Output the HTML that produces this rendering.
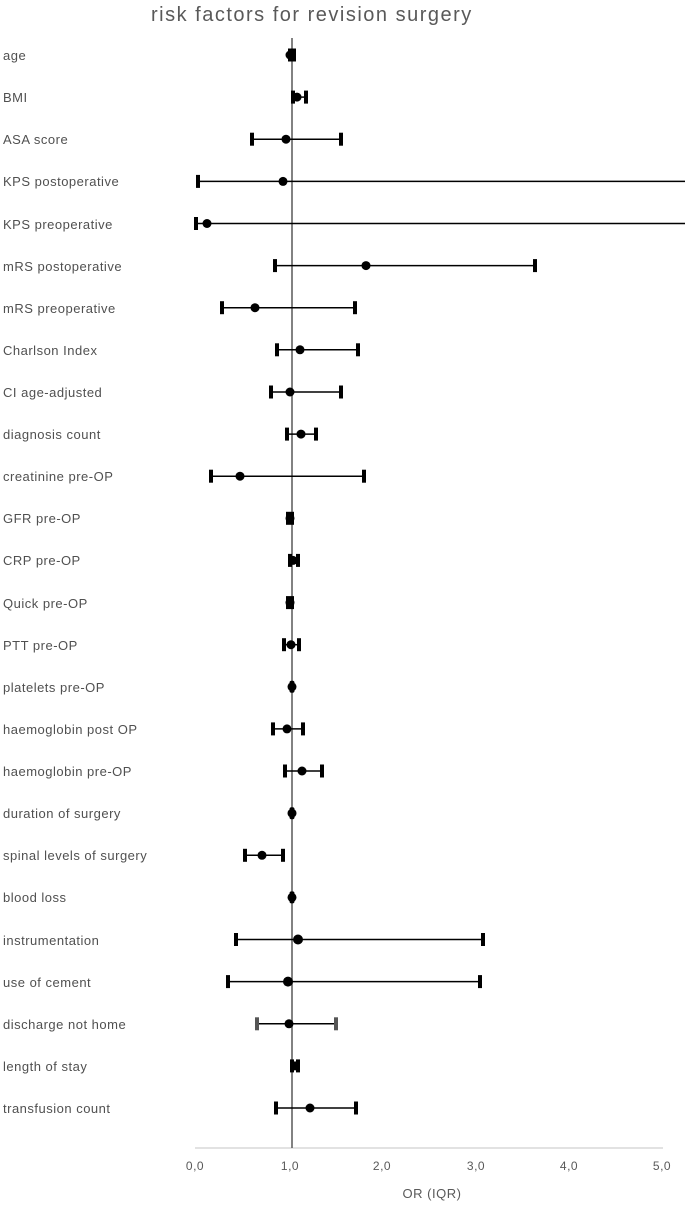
<!DOCTYPE html>
<html><head><meta charset="utf-8"><style>
html,body{margin:0;padding:0;background:#fff;}
svg{display:block;font-family:"Liberation Sans",sans-serif;}
.l{font-size:13px;fill:#505050;letter-spacing:0.5px;}
.t{font-size:12px;fill:#595959;letter-spacing:0.5px;}
</style></head><body>
<svg width="685" height="1205" viewBox="0 0 685 1205" xmlns="http://www.w3.org/2000/svg">
<text x="151" y="21" font-size="20" letter-spacing="1.5" fill="#595959">risk factors for revision surgery</text>
<line x1="195" y1="1148" x2="663" y2="1148" stroke="#d9d9d9" stroke-width="1.5"/>
<line x1="292" y1="38" x2="292" y2="1148" stroke="#595959" stroke-width="1.5"/>
<g class="t" text-anchor="middle">
<text x="195" y="1170">0,0</text><text x="290" y="1170">1,0</text><text x="382" y="1170">2,0</text><text x="476" y="1170">3,0</text><text x="569" y="1170">4,0</text><text x="662" y="1170">5,0</text>
</g>
<text x="432" y="1198" text-anchor="middle" font-size="13" letter-spacing="0.5" fill="#595959">OR (IQR)</text>

<g class="l">
<text x="3" y="60">age</text>
<text x="3" y="102">BMI</text>
<text x="3" y="144">ASA score</text>
<text x="3" y="186">KPS postoperative</text>
<text x="3" y="229">KPS preoperative</text>
<text x="3" y="271">mRS postoperative</text>
<text x="3" y="313">mRS preoperative</text>
<text x="3" y="355">Charlson Index</text>
<text x="3" y="397">CI age-adjusted</text>
<text x="3" y="439">diagnosis count</text>
<text x="3" y="481">creatinine pre-OP</text>
<text x="3" y="523">GFR pre-OP</text>
<text x="3" y="565">CRP pre-OP</text>
<text x="3" y="608">Quick pre-OP</text>
<text x="3" y="650">PTT pre-OP</text>
<text x="3" y="692">platelets pre-OP</text>
<text x="3" y="734">haemoglobin post OP</text>
<text x="3" y="776">haemoglobin pre-OP</text>
<text x="3" y="818">duration of surgery</text>
<text x="3" y="860">spinal levels of surgery</text>
<text x="3" y="902">blood loss</text>
<text x="3" y="945">instrumentation</text>
<text x="3" y="987">use of cement</text>
<text x="3" y="1029">discharge not home</text>
<text x="3" y="1071">length of stay</text>
<text x="3" y="1113">transfusion count</text>
</g>

<g stroke="#000" stroke-width="1.5">
<line x1="293" y1="97.1" x2="306" y2="97.1"/>
<line x1="252" y1="139.2" x2="341" y2="139.2"/>
<line x1="198" y1="181.4" x2="685" y2="181.4"/>
<line x1="196" y1="223.5" x2="685" y2="223.5"/>
<line x1="275" y1="265.6" x2="535" y2="265.6"/>
<line x1="222" y1="307.7" x2="355" y2="307.7"/>
<line x1="277" y1="349.8" x2="358" y2="349.8"/>
<line x1="271" y1="392" x2="341" y2="392"/>
<line x1="287" y1="434.1" x2="316" y2="434.1"/>
<line x1="211" y1="476.2" x2="364" y2="476.2"/>
<line x1="290" y1="560.4" x2="298" y2="560.4"/>
<line x1="284" y1="644.7" x2="299" y2="644.7"/>
<line x1="273" y1="728.9" x2="303" y2="728.9"/>
<line x1="285" y1="771" x2="322" y2="771"/>
<line x1="245" y1="855.3" x2="283" y2="855.3"/>
<line x1="236" y1="939.5" x2="483" y2="939.5"/>
<line x1="228" y1="981.6" x2="480" y2="981.6"/>
<line x1="257" y1="1023.8" x2="336" y2="1023.8"/>
<line x1="276" y1="1108" x2="356" y2="1108"/>
</g>

<g fill="#000">
<rect x="288" y="48.5" width="8" height="13"/>
<rect x="291" y="90.6" width="4" height="13"/><rect x="304" y="90.6" width="4" height="13"/>
<rect x="250" y="132.7" width="4" height="13"/><rect x="339" y="132.7" width="4" height="13"/>
<rect x="196" y="174.9" width="4" height="13"/>
<rect x="194" y="217" width="4" height="13"/>
<rect x="273" y="259.1" width="4" height="13"/><rect x="533" y="259.1" width="4" height="13"/>
<rect x="220" y="301.2" width="4" height="13"/><rect x="353" y="301.2" width="4" height="13"/>
<rect x="275" y="343.3" width="4" height="13"/><rect x="356" y="343.3" width="4" height="13"/>
<rect x="269" y="385.5" width="4" height="13"/><rect x="339" y="385.5" width="4" height="13"/>
<rect x="285" y="427.6" width="4" height="13"/><rect x="314" y="427.6" width="4" height="13"/>
<rect x="209" y="469.7" width="4" height="13"/><rect x="362" y="469.7" width="4" height="13"/>
<rect x="286" y="511.8" width="8" height="13"/>
<rect x="288" y="553.9" width="4" height="13"/><rect x="296" y="553.9" width="4" height="13"/>
<rect x="286" y="596.1" width="8" height="13"/>
<rect x="282" y="638.2" width="4" height="13"/><rect x="297" y="638.2" width="4" height="13"/>
<rect x="289.5" y="680.8" width="5" height="12" rx="2"/>
<rect x="271" y="722.4" width="4" height="13"/><rect x="301" y="722.4" width="4" height="13"/>
<rect x="283" y="764.5" width="4" height="13"/><rect x="320" y="764.5" width="4" height="13"/>
<rect x="289.5" y="807.2" width="5" height="12" rx="2"/>
<rect x="243" y="848.8" width="4" height="13"/><rect x="281" y="848.8" width="4" height="13"/>
<rect x="289.5" y="891.4" width="5" height="12" rx="2"/>
<rect x="234" y="933" width="4" height="13"/><rect x="481" y="933" width="4" height="13"/>
<rect x="226" y="975.1" width="4" height="13"/><rect x="478" y="975.1" width="4" height="13"/>
<rect x="255" y="1017.3" width="4" height="13" fill="#555"/><rect x="334" y="1017.3" width="4" height="13" fill="#555"/>
<rect x="290" y="1059.4" width="4" height="13"/><rect x="296" y="1059.4" width="4" height="13"/>
<rect x="274" y="1101.5" width="4" height="13"/><rect x="354" y="1101.5" width="4" height="13"/>
</g>

<g fill="#000">
<circle cx="290" cy="55" r="4.5"/>
<circle cx="297" cy="97.1" r="4.5"/>
<circle cx="286" cy="139.2" r="4.5"/>
<circle cx="283" cy="181.4" r="4.5"/>
<circle cx="207" cy="223.5" r="4.5"/>
<circle cx="366" cy="265.6" r="4.5"/>
<circle cx="255" cy="307.7" r="4.5"/>
<circle cx="300" cy="349.8" r="4.5"/>
<circle cx="290" cy="392" r="4.5"/>
<circle cx="301" cy="434.1" r="4.5"/>
<circle cx="240" cy="476.2" r="4.5"/>
<circle cx="290" cy="518.3" r="4.5"/>
<circle cx="293" cy="560.4" r="4.5"/>
<circle cx="290" cy="602.6" r="4.5"/>
<circle cx="291" cy="644.7" r="4.5"/>
<circle cx="292" cy="686.8" r="4.5"/>
<circle cx="287" cy="728.9" r="4.5"/>
<circle cx="302" cy="771" r="4.5"/>
<circle cx="292" cy="813.2" r="4.5"/>
<circle cx="262" cy="855.3" r="4.5"/>
<circle cx="292" cy="897.4" r="4.5"/>
<circle cx="298" cy="939.5" r="5"/>
<circle cx="288" cy="981.6" r="5"/>
<circle cx="289" cy="1023.8" r="4.5"/>
<circle cx="295" cy="1065.9" r="4.5"/>
<circle cx="310" cy="1108" r="4.5"/>
</g>
</svg>
</body></html>
